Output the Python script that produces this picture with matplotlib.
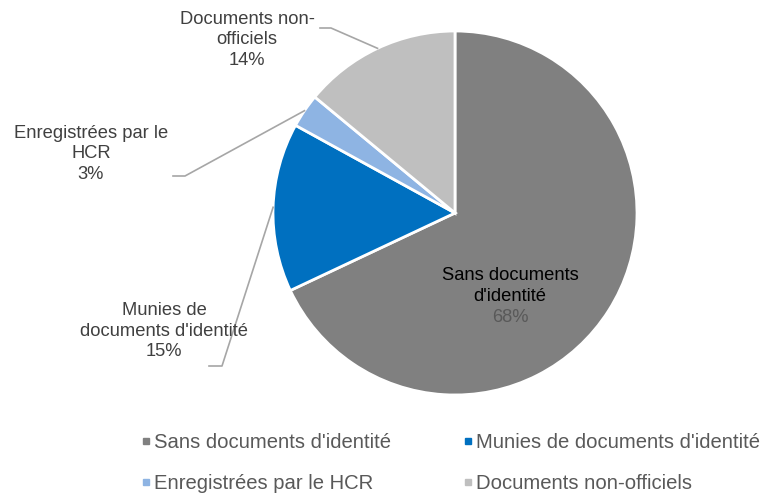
import numpy as np
import matplotlib as mpl
mpl.use("Agg")
import matplotlib.pyplot as plt
from matplotlib.lines import Line2D

plt.rcParams['font.family'] = ['Liberation Sans', 'DejaVu Sans']

categories = ["Sans documents d'identité", "Munies de documents d'identité",
              "Enregistrées par le HCR", "Documents non-officiels"]
values = [68, 15, 3, 14]
label_lines = ["Sans documents\nd'identité", "Munies de\ndocuments d'identité",
               "Enregistrées par le\nHCR", "Documents non-\nofficiels"]
colors = ['#808080', '#0070C0', '#8EB4E3', '#BFBFBF']

W, H = 776, 495
fig = plt.figure(figsize=(W / 100, H / 100), dpi=100)
ax = fig.add_axes([0, 0, 1, 1])

cx, cy, R = 455, H - 213, 182
wedges, _ = ax.pie(values, colors=colors, startangle=90, counterclock=False,
                   center=(cx, cy), radius=R,
                   wedgeprops=dict(edgecolor='white', linewidth=2))
ax.set_xlim(0, W)
ax.set_ylim(0, H)
ax.set_aspect('equal')
ax.axis('off')

fs = 13.2
ls = 1.27
# inside label for the big slice
ax.text(510, H - 286, label_lines[0], ha='center', va='center', fontsize=fs,
        color='black', linespacing=ls)
ax.text(510, H - 318, f"{values[0]}%", ha='center', va='center', fontsize=fs,
        color='#595959')

# outside labels: text centre, elbow (x0, x1, y) in pixels from top
outside = {1: ((164, 331), (209, 222, 366)),
           2: ((91, 154), (173, 185, 176)),
           3: ((247, 40), (320, 331, 28))}
for i, ((tx, ty), (x0, x1, ly)) in outside.items():
    w = wedges[i]
    mid = np.deg2rad((w.theta1 + w.theta2) / 2)
    px, py = cx + R * np.cos(mid), cy + R * np.sin(mid)
    ax.plot([x0, x1, px], [H - ly, H - ly, py], color='#A6A6A6', lw=1.2)
    ax.text(tx, H - ty, f"{label_lines[i]}\n{values[i]}%", ha='center',
            va='center', fontsize=fs, color='#404040', linespacing=ls)

order = [0, 2, 1, 3]
handles = [Line2D([], [], marker='s', ls='', color=colors[k], markersize=4)
           for k in order]
fig.legend(handles, [categories[k] for k in order], ncol=2, loc='center left',
           bbox_to_anchor=(142 / W, (H - 463) / H), frameon=False, fontsize=14.6,
           labelcolor='#595959', handlelength=0.35, handletextpad=0.25,
           columnspacing=3.6, labelspacing=1.05, borderpad=0, borderaxespad=0)

fig.savefig("out.png", dpi=100)
